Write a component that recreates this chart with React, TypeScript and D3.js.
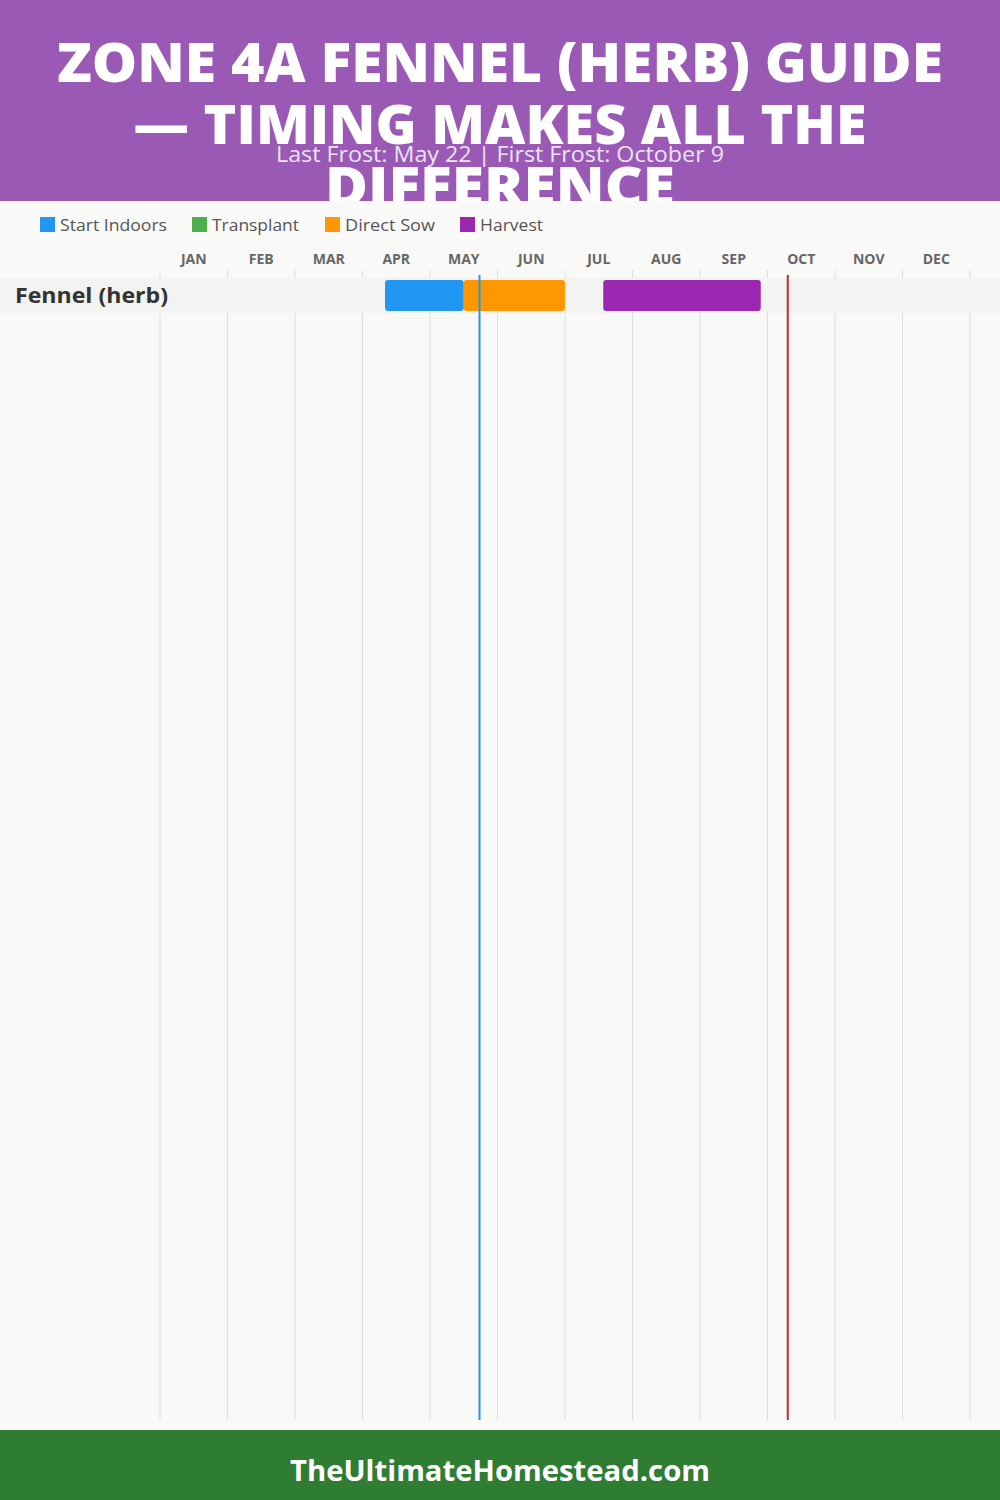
import React from "react";
import * as d3 from "d3";

const titleLines = ["ZONE 4A FENNEL (HERB) GUIDE", "— TIMING MAKES ALL THE", "DIFFERENCE"];
const titleWidths = [886, 733, 350];
const subtitle = "Last Frost: May 22 | First Frost: October 9";
const months = ["JAN", "FEB", "MAR", "APR", "MAY", "JUN", "JUL", "AUG", "SEP", "OCT", "NOV", "DEC"];
const legendNames = ["Start Indoors", "Transplant", "Direct Sow", "Harvest"];
const legendColors = ["#2196f3", "#4caf50", "#ff9800", "#9c27b0"];
const crops = ["Fennel (herb)"];
// [crop, task, startMonth, startDay, endMonth, endDay]
const tasks: [string, string, number, number, number, number][] = [
  ["Fennel (herb)", "Start Indoors", 4, 10, 5, 15],
  ["Fennel (herb)", "Direct Sow", 5, 15, 6, 30],
  ["Fennel (herb)", "Harvest", 7, 17, 9, 27],
];
const frostDates: [string, number, number, string][] = [
  ["Last Frost", 5, 22, "#2196f3"],
  ["First Frost", 10, 9, "#c62828"],
];
const footer = "TheUltimateHomestead.com";

const W = 1000;
const H = 1500;
const FONT = "'Open Sans', 'Noto Sans', sans-serif";

export default function App() {
  const x = d3.scaleLinear().domain([0, 12]).range([160, 970]);
  const pos = (m: number, d: number) => m - 1 + d / 30;
  const color = d3.scaleOrdinal<string, string>().domain(legendNames).range(legendColors);
  const y = d3.scaleBand().domain(crops).range([278, 278 + 35 * crops.length]).padding(0);
  const legendX = [40, 192, 325, 460];
  const legendW = [107, 87, 90, 63];
  const gridTop = 270;
  const gridBottom = 1420;

  return (
    <svg width={W} height={H} style={{ position: "absolute", left: 0, top: 0 }} fontFamily={FONT}>
      <rect x={0} y={0} width={W} height={201} fill="#9b59b6" />
      {titleLines.map((t, i) => (
        <text
          key={i}
          x={500}
          y={82 + i * 62}
          textAnchor="middle"
          fontSize={54}
          fontWeight={800}
          fill="#fff"
          textLength={titleWidths[i]}
          lengthAdjust="spacingAndGlyphs"
        >
          {t}
        </text>
      ))}
      <rect x={0} y={201} width={W} height={1229} fill="#f9f9f8" />
      <text
        x={500}
        y={162}
        textAnchor="middle"
        fontSize={21}
        fill="#ece3f2"
        textLength={448}
        lengthAdjust="spacingAndGlyphs"
      >
        {subtitle}
      </text>
      {legendNames.map((n, i) => (
        <g key={n}>
          <rect x={legendX[i]} y={217} width={15} height={15} fill={color(n)} />
          <text
            x={legendX[i] + 20}
            y={231}
            fontSize={16}
            fill="#555"
            textLength={legendW[i]}
            lengthAdjust="spacingAndGlyphs"
          >
            {n}
          </text>
        </g>
      ))}
      {months.map((m, i) => (
        <text
          key={m}
          x={(x(i) + x(i + 1)) / 2}
          y={264}
          textAnchor="middle"
          fontSize={14}
          fontWeight={700}
          fill="#666"
        >
          {m}
        </text>
      ))}
      {d3.range(13).map((i) => (
        <line key={i} x1={x(i)} x2={x(i)} y1={gridTop} y2={gridBottom} stroke="#dedede" strokeWidth={1} />
      ))}
      {crops.map((c) => (
        <g key={c}>
          <rect x={0} y={y(c)} width={W} height={y.bandwidth()} fill="#f3f3f2" />
          <text x={15} y={(y(c) as number) + 25} fontSize={21} fontWeight={700} fill="#333" textLength={153} lengthAdjust="spacingAndGlyphs">
            {c}
          </text>
        </g>
      ))}
      {tasks.map(([c, t, sm, sd, em, ed], i) => {
        const x0 = x(pos(sm, sd));
        const x1 = x(pos(em, ed));
        return (
          <rect
            key={i}
            x={x0}
            y={(y(c) as number) + 2}
            width={x1 - x0}
            height={y.bandwidth() - 4}
            rx={3}
            fill={color(t)}
          />
        );
      })}
      {frostDates.map(([n, m, d, col]) => (
        <line key={n} x1={x(pos(m, d))} x2={x(pos(m, d))} y1={275} y2={gridBottom} stroke={col} strokeWidth={2} />
      ))}
      <rect x={0} y={1430} width={W} height={70} fill="#2e7d32" />
      <text
        x={500}
        y={1481}
        textAnchor="middle"
        fontSize={29}
        fontWeight={700}
        fill="#fff"
        textLength={420}
        lengthAdjust="spacingAndGlyphs"
      >
        {footer}
      </text>
    </svg>
  );
}
